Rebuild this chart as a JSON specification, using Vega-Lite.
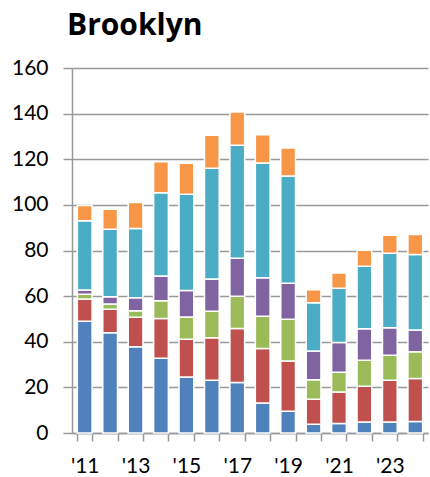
{
  "$schema": "https://vega.github.io/schema/vega-lite/v6.json",
  "width": 356,
  "height": 365,
  "autosize": "none",
  "padding": {"left": 72, "top": 68, "right": 2, "bottom": 44},
  "background": "white",
  "title": {
    "text": "Brooklyn",
    "anchor": "start",
    "frame": "group",
    "font": "Open Sans",
    "fontSize": 30,
    "fontWeight": "bold",
    "color": "#000000",
    "offset": 16,
    "dx": -5
  },
  "data": {
    "values": [
      {"year": 2011, "k": 1, "v": 49.0}, {"year": 2011, "k": 2, "v": 9.7}, {"year": 2011, "k": 3, "v": 2.1}, {"year": 2011, "k": 4, "v": 1.9}, {"year": 2011, "k": 5, "v": 30.3}, {"year": 2011, "k": 6, "v": 6.7},
      {"year": 2012, "k": 1, "v": 43.9}, {"year": 2012, "k": 2, "v": 10.4}, {"year": 2012, "k": 3, "v": 2.2}, {"year": 2012, "k": 4, "v": 3.2}, {"year": 2012, "k": 5, "v": 29.6}, {"year": 2012, "k": 6, "v": 8.8},
      {"year": 2013, "k": 1, "v": 37.8}, {"year": 2013, "k": 2, "v": 12.9}, {"year": 2013, "k": 3, "v": 2.9}, {"year": 2013, "k": 4, "v": 5.7}, {"year": 2013, "k": 5, "v": 30.3}, {"year": 2013, "k": 6, "v": 11.4},
      {"year": 2014, "k": 1, "v": 32.8}, {"year": 2014, "k": 2, "v": 17.4}, {"year": 2014, "k": 3, "v": 7.8}, {"year": 2014, "k": 4, "v": 10.8}, {"year": 2014, "k": 5, "v": 36.5}, {"year": 2014, "k": 6, "v": 13.6},
      {"year": 2015, "k": 1, "v": 24.5}, {"year": 2015, "k": 2, "v": 16.6}, {"year": 2015, "k": 3, "v": 9.7}, {"year": 2015, "k": 4, "v": 11.7}, {"year": 2015, "k": 5, "v": 42.2}, {"year": 2015, "k": 6, "v": 13.5},
      {"year": 2016, "k": 1, "v": 23.1}, {"year": 2016, "k": 2, "v": 18.6}, {"year": 2016, "k": 3, "v": 11.7}, {"year": 2016, "k": 4, "v": 14.1}, {"year": 2016, "k": 5, "v": 48.6}, {"year": 2016, "k": 6, "v": 14.4},
      {"year": 2017, "k": 1, "v": 22.1}, {"year": 2017, "k": 2, "v": 23.7}, {"year": 2017, "k": 3, "v": 14.1}, {"year": 2017, "k": 4, "v": 16.7}, {"year": 2017, "k": 5, "v": 49.5}, {"year": 2017, "k": 6, "v": 14.6},
      {"year": 2018, "k": 1, "v": 13.2}, {"year": 2018, "k": 2, "v": 23.8}, {"year": 2018, "k": 3, "v": 14.2}, {"year": 2018, "k": 4, "v": 16.9}, {"year": 2018, "k": 5, "v": 50.3}, {"year": 2018, "k": 6, "v": 12.3},
      {"year": 2019, "k": 1, "v": 9.5}, {"year": 2019, "k": 2, "v": 22.1}, {"year": 2019, "k": 3, "v": 18.3}, {"year": 2019, "k": 4, "v": 15.7}, {"year": 2019, "k": 5, "v": 47.1}, {"year": 2019, "k": 6, "v": 12.2},
      {"year": 2020, "k": 1, "v": 3.8}, {"year": 2020, "k": 2, "v": 11.0}, {"year": 2020, "k": 3, "v": 8.5}, {"year": 2020, "k": 4, "v": 12.6}, {"year": 2020, "k": 5, "v": 21.2}, {"year": 2020, "k": 6, "v": 5.7},
      {"year": 2021, "k": 1, "v": 4.2}, {"year": 2021, "k": 2, "v": 13.8}, {"year": 2021, "k": 3, "v": 8.6}, {"year": 2021, "k": 4, "v": 13.1}, {"year": 2021, "k": 5, "v": 23.8}, {"year": 2021, "k": 6, "v": 6.6},
      {"year": 2022, "k": 1, "v": 4.8}, {"year": 2022, "k": 2, "v": 15.7}, {"year": 2022, "k": 3, "v": 11.4}, {"year": 2022, "k": 4, "v": 13.8}, {"year": 2022, "k": 5, "v": 27.4}, {"year": 2022, "k": 6, "v": 7.0},
      {"year": 2023, "k": 1, "v": 4.8}, {"year": 2023, "k": 2, "v": 18.3}, {"year": 2023, "k": 3, "v": 11.0}, {"year": 2023, "k": 4, "v": 12.0}, {"year": 2023, "k": 5, "v": 32.7}, {"year": 2023, "k": 6, "v": 7.9},
      {"year": 2024, "k": 1, "v": 5.0}, {"year": 2024, "k": 2, "v": 18.9}, {"year": 2024, "k": 3, "v": 11.7}, {"year": 2024, "k": 4, "v": 9.5}, {"year": 2024, "k": 5, "v": 33.1}, {"year": 2024, "k": 6, "v": 8.8}
    ]
  },
  "mark": {"type": "bar", "stroke": "white", "strokeWidth": 1.5},
  "encoding": {
    "x": {
      "field": "year",
      "type": "ordinal",
      "scale": {"paddingInner": 0.42, "paddingOuter": 0.21},
      "axis": {
        "title": null,
        "labelAngle": 0,
        "tickBand": "extent",
        "labelExpr": "datum.value % 2 == 1 ? \"'\" + substring(toString(datum.value), 2) : ''",
        "labelFont": "Lato",
        "labelFontSize": 21,
        "labelColor": "#000000",
        "labelPadding": 14,
        "tickSize": 8,
        "tickColor": "#999999",
        "tickWidth": 1.5,
        "domainColor": "#999999",
        "domainWidth": 1.5,
        "grid": false
      }
    },
    "y": {
      "field": "v",
      "type": "quantitative",
      "aggregate": "sum",
      "stack": "zero",
      "scale": {"domain": [0, 160], "nice": false},
      "axis": {
        "title": null,
        "values": [0, 20, 40, 60, 80, 100, 120, 140, 160],
        "labelFont": "Lato",
        "labelFontSize": 21,
        "labelColor": "#000000",
        "labelPadding": 15,
        "tickSize": 9,
        "tickColor": "#999999",
        "tickWidth": 1.5,
        "domainColor": "#999999",
        "domainWidth": 1.5,
        "grid": true,
        "gridColor": "#999999",
        "gridWidth": 1.5
      }
    },
    "color": {
      "field": "k",
      "type": "ordinal",
      "scale": {"domain": [1, 2, 3, 4, 5, 6], "range": ["#4F81BD", "#C0504D", "#9BBB59", "#8064A2", "#4BACC6", "#F79646"]},
      "legend": null
    },
    "order": {"field": "k", "type": "quantitative", "sort": "ascending"}
  },
  "config": {"view": {"stroke": null}}
}
